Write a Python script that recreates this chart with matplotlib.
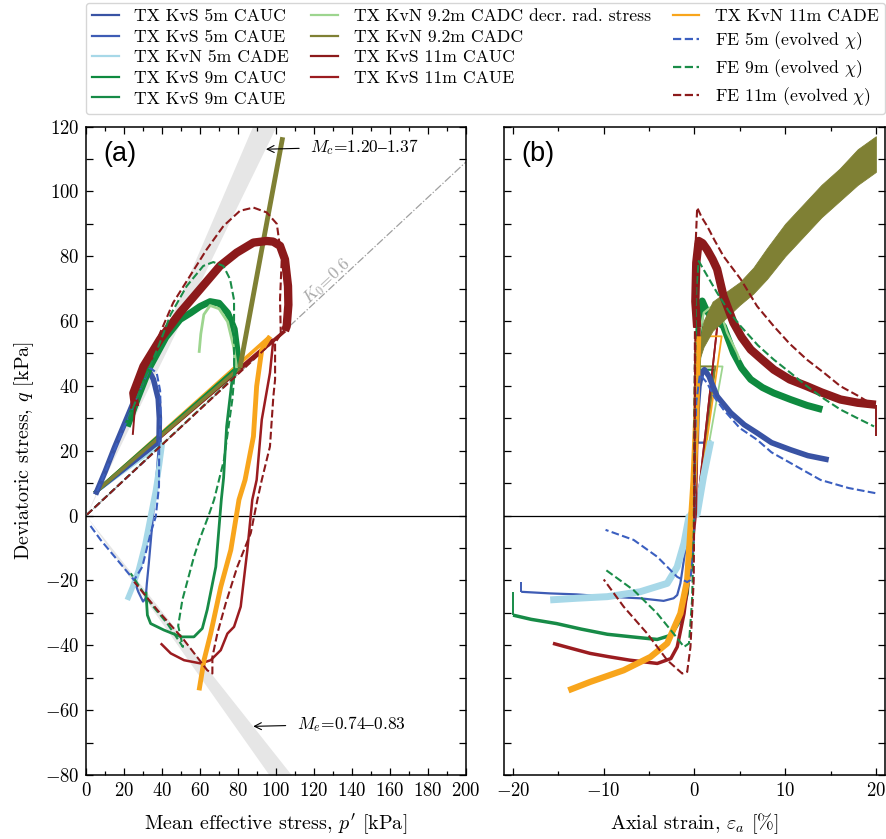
import numpy as np
import matplotlib
matplotlib.use("Agg")
import matplotlib.pyplot as plt
from matplotlib.lines import Line2D
from matplotlib.ticker import MultipleLocator

plt.rcParams['font.family'] = ['cmr10', 'DejaVu Serif']
plt.rcParams['mathtext.fontset'] = 'cm'
plt.rcParams['axes.formatter.use_mathtext'] = True

# ---------------- legend / series meta ----------------
test_labels = ['TX KvS 5m CAUC', 'TX KvS 5m CAUE', 'TX KvN 5m CADE',
               'TX KvS 9m CAUC', 'TX KvS 9m CAUE',
               'TX KvN 9.2m CADC decr. rad. stress', 'TX KvN 9.2m CADC',
               'TX KvS 11m CAUC', 'TX KvS 11m CAUE', 'TX KvN 11m CADE']
fe_labels = [r'FE 5m (evolved $\chi$)', r'FE 9m (evolved $\chi$)', r'FE 11m (evolved $\chi$)']
test_colors = ['#3953a4', '#3e5cb5', '#a7d8e8', '#0e8a3f', '#178b47',
               '#9dd58f', '#7f8034', '#8c1a1b', '#9b1c20', '#f8a51c']
fe_colors = ['#3b5fc0', '#1a8c48', '#8c1a1b']

# strength / K0 lines
Mc_range = [1.20, 1.37]
Me_range = [0.74, 0.83]
K0 = 0.6

# consolidation start of lab tests (p', q) and of FE
cons_start = [4.5, 7.0]
fe_cons_start = [0.5, 0.3]

# ---------------- panel (a): p' - q paths ----------------
p_5c = [38.4, 38.6, 38.0, 35.5, 32.3, 29.5, 25, 20, 15, 10, 5]
q_5c = [22.6, 30, 36, 42, 45.5, 41.5, 35, 28, 21, 13.5, 6.5]
p_5e = [38.4, 37.5, 36.0, 34.5, 33.0, 32.0, 31.4, 30.0, 27.5, 25.3]
q_5e = [22.6, 15, 5, -5, -15, -21, -25.5, -26.5, -23.5, -20]
p_5d = [40.2, 38.5, 36.5, 34.0, 31.0, 27.5, 24.5, 21.7]
q_5d = [22.4, 15, 7.5, 0, -9, -17, -22, -26]
p_9c = [79.3, 79.5, 78.0, 74.5, 70, 65.3, 60, 55, 49.5, 42, 33.7, 27, 21.7]
q_9c = [45.5, 50.5, 57.5, 62.5, 65.5, 66.0, 64.5, 62.5, 60.5, 55, 46, 36, 27.5]
p_9e = [79.3, 76.7, 74.0, 72.4, 71.2, 68.3, 63.8, 61.2, 56.8, 50.0, 41.0, 34.0, 32.3, 31.5]
q_9e = [45.5, 41.0, 27.5, 11.6, 4.9, -15.8, -29.0, -34.8, -37.4, -37.4, -35.3, -33.3, -30.7, -23.5]
p_9d = [79.3, 77.5, 74.5, 70.0, 65.3, 62.0, 60.4, 59.5]
q_9d = [45.5, 52.5, 59.8, 63.8, 64.8, 62.0, 56.0, 50.2]
p_92 = [81.0, 92.0, 103.5]
q_92 = [45.6, 80.5, 116.7]
p_11c = [104.7, 105.6, 106.5, 106.3, 104.7, 102.1, 98.5, 95.1, 88.1, 79.3, 70.5, 60.0, 49.5, 38.9, 30.2, 24.9, 25.8, 24.6]
q_11c = [57.0, 58.4, 65.0, 70.8, 79.0, 83.2, 84.5, 84.7, 84.2, 81.1, 77.0, 69.8, 62.6, 54.3, 46.0, 37.8, 33.7, 24.9]
p_11e = [98.6, 96.8, 92.5, 89.8, 87.5, 84.9, 81.4, 77.9, 74.4, 70.9, 65.6, 60.4, 51.6, 44.6, 39.3]
q_11e = [54.3, 44.0, 29.6, 11.0, 4.9, -10.6, -28.1, -34.3, -36.4, -41.5, -44.6, -45.6, -44.6, -42.5, -39.4]
p_11d = [96.8, 92.5, 89.8, 88.1, 83.7, 80.5, 76.2, 70.9, 65.6, 62.1, 59.5]
q_11d = [55.3, 51.2, 39.9, 24.4, 11.0, 4.9, -10.6, -22.0, -36.4, -44.6, -53.9]

fe5_cp = [38.5, 39.3, 39.0, 37.2, 33.7, 29, 22, 14, 5.5]
fe5_cq = [21.0, 30, 38.5, 44.0, 45.6, 39.5, 30, 19, 7]
fe5_ep = [38.5, 38.4, 36.7, 34.0, 29.6, 25.3, 16.5, 7.7, 1.5]
fe5_eq = [21.0, 9.0, -0.3, -5.4, -15.8, -19.9, -13.7, -7.5, -2.5]
fe9_cp = [78.0, 77.9, 77.9, 75.8, 72.3, 67.0, 61.7, 53.0, 44.5, 38, 30, 21.5]
fe9_cq = [42.8, 51.2, 66.5, 72.9, 77.0, 78.2, 77.0, 70.8, 62.0, 52, 41, 28.5]
fe9_ep = [78.0, 77.0, 72.6, 67.4, 64.5, 60.0, 56.8, 50.7, 48.5, 51.0, 47.0, 42.8, 34.0, 23.5]
fe9_eq = [42.8, 35.8, 17.2, 4.9, 0.0, -7.0, -12.7, -26.0, -34.0, -40.5, -37.0, -33.3, -27.1, -17.8]
fe11_cp = [102.5, 102.1, 103.0, 100.4, 95.1, 88.1, 81.0, 72.3, 63.5, 54.7, 45.9, 38, 30.5, 23.5]
fe11_cq = [55.9, 66.7, 79.0, 90.0, 93.5, 95.0, 94.0, 89.3, 82.1, 73.9, 65.7, 55, 44, 33]
fe11_ep = [102.5, 99.5, 99.5, 98.6, 96.8, 92.5, 90.2, 86.7, 79.6, 73.5, 69.1, 66.5, 66.5, 63.8, 51.6, 37.5, 25.3]
fe11_eq = [55.9, 53.3, 42.0, 36.8, 21.3, 11.0, 4.9, -5.4, -15.8, -27.1, -36.4, -43.6, -48.7, -47.7, -38.4, -29.1, -20.4]

# ---------------- panel (b): strain - q paths ----------------
cons_strain_b = [1.5, 1.5, 1.8, 2.2, 2.2, 3.1, 2.3, 2.5, 2.5, 3.0]

e_5c = [0.2, 0.3, 0.5, 0.8, 1.1, 1.6, 2.5, 4.0, 5.5, 6.9, 8.5, 10.6, 12.5, 14.8]
s_5c = [22.5, 33, 40, 44, 45, 43, 36.8, 31.7, 28, 25.5, 22.5, 20.3, 18.5, 17.2]
e_5e = [0.2, 0.0, -0.3, -0.63, -1.0, -1.55, -1.9, -2.3, -3.4, -6, -9.6, -13, -15.9, -19.1, -19.1]
s_5e = [22.5, 10, 3, -0.3, -10.6, -20.9, -24.5, -25.5, -26.3, -25.5, -25, -24.3, -24, -23.5, -20.4]
e_5d = [1.8, 1.0, 0.3, -0.6, -1.15, -1.9, -3, -6, -9.6, -13, -15.9]
s_5d = [23, 12, 0.5, -0.3, -8.5, -15.8, -20.9, -23.5, -25, -25.5, -26]
e_9c = [0.3, 0.5, 0.85, 1.2, 1.77, 2.5, 3.2, 4.3, 5.2, 6.2, 7.5, 8.75, 10.6, 12.4, 14.1]
s_9c = [45, 58, 66.2, 64, 61.5, 60, 58.4, 50.2, 45.5, 42, 39.5, 37.8, 35.8, 34, 32.7]
e_9e = [0.3, 0.1, -0.08, -0.44, -0.8, -1.55, -2.6, -4.1, -6.9, -9.6, -12.5, -15.2, -18, -20, -20]
s_9e = [45, 15, 0.7, -9.6, -24, -32.2, -36.9, -38.2, -37.4, -36.6, -35, -33.3, -32, -30.7, -23.5]
e_9d = [0.3, 0.5, 1.03, 1.95, 2.9, 3.6, 4.7, 5.0]
s_9d = [46, 55, 62.6, 64.6, 62.6, 56.4, 50.2, 48]
e_92 = [0.3, 1, 2, 3.5, 5, 6.5, 8, 10, 12, 14, 16, 18, 20]
s_92_lo = [46, 52, 57, 61, 65, 68.5, 73, 80, 86, 92, 97, 102, 106]
s_92_hi = [50, 60, 66, 69, 72, 76.5, 82.5, 90, 96, 102, 107, 113, 117]
e_11c = [0.3, 0.1, 0.2, 0.47, 0.9, 1.4, 2.0, 2.5, 3.2, 4.3, 5.2, 6.2, 7.5, 8.75, 10.5, 12.4, 14, 16.1, 18, 20, 20]
s_11c = [58, 66, 78, 84.7, 84, 82, 79, 76, 67.7, 59.5, 55, 51.2, 48, 45, 42, 39.9, 38, 35.8, 34.8, 34.2, 24.4]
e_11e = [0.5, 0.3, 0.1, -0.44, -1.15, -1.9, -2.6, -4.1, -7.1, -9.5, -11.5, -13.5, -15.6]
s_11e = [58, 30, 0.7, -14.7, -30.2, -40.5, -44.1, -45.6, -44.6, -43.5, -42.5, -41, -39.4]
e_11d = [0.4, 0.2, -0.1, -0.44, -0.8, -1.55, -3, -4.85, -7.8, -11.5, -13.9]
s_11d = [55.3, 30, 10.5, -4.4, -19.9, -30.2, -39.4, -43.6, -47.7, -51.3, -53.9]

fe5_ce = [0, 0.05, 0.2, 0.6, 1.4, 2.2, 3.2, 5, 6.9, 8.5, 10.6, 13.9, 17, 20]
fe5_cs = [0, 21, 35, 43.5, 40.9, 36.5, 32.7, 27, 23.4, 19.5, 16.2, 11, 8.5, 6.9]
fe5_ee = [0.05, 0.0, -0.1, -0.44, -0.8, -1.9, -4.1, -6.7, -9.8]
fe5_es = [21, 0, -10, -19.9, -20.5, -18.9, -12.7, -7.5, -4.4]
fe9_ce = [0, 0.05, 0.2, 0.47, 1.4, 2.5, 3.8, 5.1, 7, 8.75, 10.6, 12.4, 14.3, 16.1, 18, 19.8]
fe9_cs = [0, 43, 70, 78.5, 74, 68.7, 63, 58.4, 52.5, 48.1, 44, 39.9, 36, 32.7, 30, 27.5]
fe9_ee = [0.05, -0.08, -0.26, -0.6, -1.15, -2.3, -4.1, -6.7, -10]
fe9_es = [43, -5.4, -26, -39.4, -40.5, -36.4, -30.2, -23, -16.3]
fe11_ce = [0, 0.05, 0.15, 0.3, 0.8, 1.4, 2.2, 3.2, 5.1, 6.9, 8.75, 10.5, 12.4, 14.3, 16.1, 18, 19.8]
fe11_cs = [0, 56, 85, 95, 92, 89.3, 85, 80, 72.9, 64.6, 58.4, 53, 48.1, 44, 39.9, 37, 34]
fe11_ee = [0.1, -0.08, -0.44, -0.8, -1.35, -3, -5.2, -7.8, -10]
fe11_es = [56, -19.9, -40.5, -48.2, -48.7, -44.6, -36.4, -28.1, -19.7]

# ---------------- figure ----------------
fig = plt.figure(figsize=(8.86, 8.39), dpi=100)
ax_a = fig.add_axes([0.0971, 0.0763, 0.4289, 0.7729])
ax_b = fig.add_axes([0.5688, 0.0763, 0.4300, 0.7729], sharey=ax_a)

band_col = '#e6e6e6'
pp = np.array([0.0, 130.0])
ax_a.fill_between(pp, Mc_range[0] * pp, Mc_range[1] * pp, color=band_col, lw=0, zorder=0)
ax_a.fill_between(pp, -Me_range[0] * pp, -Me_range[1] * pp, color=band_col, lw=0, zorder=0)
k0_slope = 3 * (1 - K0) / (1 + 2 * K0)
pk = np.array([0.0, 200.0])
ax_a.plot(pk, k0_slope * pk, color='#a0a0a0', ls='-.', lw=0.9, zorder=1)
ax_a.text(127, 72.5, r'$K_0$=0.6', color='#a8a8a8', fontsize=12.5, rotation=43,
          ha='center', va='center')

for ax in (ax_a, ax_b):
    ax.axhline(0, color='black', lw=0.9, zorder=1)

kw = dict(solid_capstyle='butt', solid_joinstyle='round')

paths_a = [(p_5c, q_5c, 4.0), (p_5e, q_5e, 1.6), (p_5d, q_5d, 4.0),
           (p_9c, q_9c, 5.0), (p_9e, q_9e, 2.0), (p_9d, q_9d, 2.0),
           (p_92, q_92, 3.5), (p_11c, q_11c, 6.0), (p_11e, q_11e, 1.8),
           (p_11d, q_11d, 3.5)]
# consolidation segments (drawn so that the olive / green ones sit on top)
cons_order = [9, 8, 7, 2, 1, 0, 5, 4, 3, 6]
for i in cons_order:
    p, q, lw = paths_a[i]
    ax_a.plot([cons_start[0], p[0]], [cons_start[1], q[0]], color=test_colors[i],
              lw=2.6, zorder=2, **kw)
for i, ((p, q, lw), c) in enumerate(zip(paths_a, test_colors)):
    if i == 7:
        ax_a.plot(p[:-1], q[:-1], color=c, lw=lw, zorder=3, **kw)
        ax_a.plot(p[-2:], q[-2:], color=c, lw=1.4, zorder=3, **kw)
    else:
        ax_a.plot(p, q, color=c, lw=lw, zorder=3, **kw)

fe_a = [(fe5_cp, fe5_cq, fe5_ep, fe5_eq), (fe9_cp, fe9_cq, fe9_ep, fe9_eq),
        (fe11_cp, fe11_cq, fe11_ep, fe11_eq)]
for (cp, cq, ep, eq), c in zip(fe_a, fe_colors):
    ax_a.plot([fe_cons_start[0], cp[0]], [fe_cons_start[1], cq[0]], color=c, ls='--', lw=1.4, zorder=4)
    ax_a.plot(cp, cq, color=c, ls='--', lw=1.5, zorder=4)
    ax_a.plot(ep, eq, color=c, ls='--', lw=1.5, zorder=4)

ax_a.annotate(r'$M_c$=1.20$–$1.37', xy=(94.7, 113), xytext=(118, 113.8),
              fontsize=12.5, va='center', ha='left',
              arrowprops=dict(arrowstyle='->', color='black', lw=0.8, shrinkA=6, shrinkB=0))
ax_a.annotate(r'$M_e$=0.74$–$0.83', xy=(88, -65), xytext=(110.9, -64.3),
              fontsize=12.5, va='center', ha='left',
              arrowprops=dict(arrowstyle='->', color='black', lw=0.8, shrinkA=6, shrinkB=0))

# ---------------- panel (b) ----------------
q_cons = [s_5c[0], s_5e[0], s_5d[0], s_9c[0], s_9e[0], s_9d[0], s_92_lo[0], s_11c[0], s_11e[0], s_11d[0]]
e_start = [e_5c[0], e_5e[0], e_5d[0], e_9c[0], e_9e[0], e_9d[0], e_92[0], e_11c[0], e_11e[0], e_11d[0]]
for ec, qc, e0, c in zip(cons_strain_b, q_cons, e_start, test_colors):
    ax_b.plot([0.2, ec, e0], [0.0, qc, qc], color=c, lw=1.3, zorder=2)

paths_b = [(e_5c, s_5c, 4.0), (e_5e, s_5e, 1.6), (e_5d, s_5d, 5.0),
           (e_9c, s_9c, 5.0), (e_9e, s_9e, 2.5), (e_9d, s_9d, 1.6),
           None, (e_11c, s_11c, 6.0), (e_11e, s_11e, 2.5), (e_11d, s_11d, 4.5)]
for i, (item, c) in enumerate(zip(paths_b, test_colors)):
    if item is None:
        ax_b.fill_between(e_92, s_92_lo, s_92_hi, color=c, lw=0.6, edgecolor=c, zorder=3)
        continue
    e, s, lw = item
    if i in (1, 4, 7):
        ax_b.plot(e[:-1], s[:-1], color=c, lw=lw, zorder=3, **kw)
        ax_b.plot(e[-2:], s[-2:], color=c, lw=1.4, zorder=3, **kw)
    else:
        ax_b.plot(e, s, color=c, lw=lw, zorder=3, **kw)

fe_b = [(fe5_ce, fe5_cs, fe5_ee, fe5_es), (fe9_ce, fe9_cs, fe9_ee, fe9_es),
        (fe11_ce, fe11_cs, fe11_ee, fe11_es)]
for (ce, cs, ee, es), c in zip(fe_b, fe_colors):
    ax_b.plot(ce, cs, color=c, ls='--', lw=1.5, zorder=4)
    ax_b.plot(ee, es, color=c, ls='--', lw=1.5, zorder=4)

# ---------------- axes styling ----------------
ax_a.set_xlim(0, 200)
ax_a.set_ylim(-80, 120)
ax_b.set_xlim(-21, 21)
ax_a.xaxis.set_major_locator(MultipleLocator(20))
ax_a.xaxis.set_minor_locator(MultipleLocator(10))
ax_a.yaxis.set_major_locator(MultipleLocator(20))
ax_a.yaxis.set_minor_locator(MultipleLocator(10))
ax_b.xaxis.set_major_locator(MultipleLocator(10))
ax_b.xaxis.set_minor_locator(MultipleLocator(5))
for ax in (ax_a, ax_b):
    ax.tick_params(which='both', direction='in', top=True, right=True, width=0.9)
    ax.tick_params(which='major', length=5, labelsize=13.5, pad=5)
    ax.tick_params(axis='x', which='minor', length=3)
    ax.tick_params(axis='y', which='minor', length=5)
    for sp in ax.spines.values():
        sp.set_linewidth(1.1)
ax_b.tick_params(labelleft=False)

ax_a.set_xlabel(r"Mean effective stress, $p'$ [kPa]", fontsize=14.5, labelpad=8)
ax_b.set_xlabel(r"Axial strain, $\varepsilon_a$ [%]", fontsize=14.5, labelpad=8)
ax_a.set_ylabel(r"Deviatoric stress, $q$ [kPa]", fontsize=14.5, labelpad=6)

ax_a.text(0.045, 0.978, '(a)', transform=ax_a.transAxes, fontsize=19.5,
          family='Liberation Sans', va='top', ha='left')
ax_b.text(0.047, 0.978, '(b)', transform=ax_b.transAxes, fontsize=19.5,
          family='Liberation Sans', va='top', ha='left')

handles = [Line2D([], [], color=c, lw=1.6) for c in test_colors] + \
          [Line2D([], [], color=c, lw=1.6, ls='--') for c in fe_colors]
fig.legend(handles, test_labels + fe_labels, loc='upper left',
           bbox_to_anchor=(0.097, 0.997, 0.902, 0), mode='expand', ncol=3,
           fontsize=12.7, frameon=True, fancybox=True, edgecolor='#cccccc',
           handlelength=1.5, handletextpad=0.9, labelspacing=0.3,
           borderaxespad=0, borderpad=0.35)

fig.savefig('out.png', dpi=100)
